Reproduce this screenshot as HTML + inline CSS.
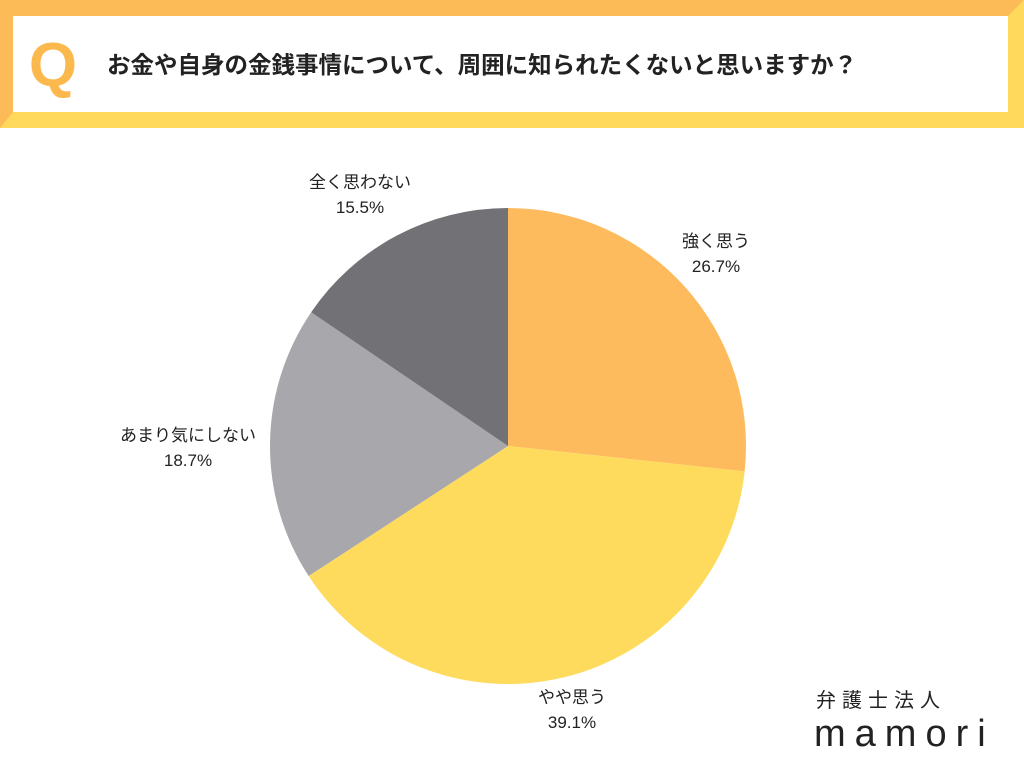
<!DOCTYPE html>
<html><head><meta charset="utf-8"><style>
body{margin:0;width:1024px;height:768px;background:#fff;overflow:hidden;font-family:"Liberation Sans","Noto Sans CJK JP",sans-serif;}
</style></head><body>
<svg width="1024" height="768" style="position:absolute;left:0;top:0">
<g>
<rect x="0" y="0" width="1024" height="128" fill="#fed95c"/>
<polygon points="0,0 1024,0 1008,16 13,16 13,112 0,128" fill="#fdbb58"/>
<rect x="13" y="16" width="995" height="96" fill="#fff"/>
<text x="53" y="86" font-size="62" font-weight="bold" fill="#fbb94d" text-anchor="middle">Q</text>
<text x="107" y="73" font-size="23.5" font-weight="bold" fill="#222">お金や自身の金銭事情について、周囲に知られたくないと思いますか？</text>
</g>
<g id="pie"></g>
<g>
<text x="816" y="707" font-size="20" fill="#222" letter-spacing="6">弁護士法人</text>
<text x="814" y="746" font-size="38" fill="#222" letter-spacing="9">mamori</text>
</g>
</svg>
<script>
const categories=["強く思う","やや思う","あまり気にしない","全く思わない"];
const values=[26.7,39.1,18.7,15.5];
const colors=["#fdbb5e","#fedb5c","#a8a8ac","#717176"];
const labelPos=[[716,247],[572,703],[188,441],[360,188]];
const cx=508,cy=446,r=238;
const g=document.getElementById('pie');
const ns="http://www.w3.org/2000/svg";
const total=values.reduce((a,b)=>a+b,0);
let a0=0;
values.forEach((v,i)=>{
  const a1=a0+v/total*2*Math.PI;
  const p=(a)=>[cx+r*Math.sin(a),cy-r*Math.cos(a)];
  const [x0,y0]=p(a0),[x1,y1]=p(a1);
  const path=document.createElementNS(ns,'path');
  path.setAttribute('d',`M${cx},${cy}L${x0},${y0}A${r},${r} 0 ${a1-a0>Math.PI?1:0} 1 ${x1},${y1}Z`);
  path.setAttribute('fill',colors[i]);
  
  
  g.appendChild(path);
  const [lx,ly]=labelPos[i];
  const t=document.createElementNS(ns,'text');
  t.setAttribute('x',lx);t.setAttribute('y',ly);
  t.setAttribute('text-anchor','middle');t.setAttribute('font-size','17');t.setAttribute('fill','#222');
  
  
  t.innerHTML=`<tspan x="${lx}">${categories[i]}</tspan><tspan x="${lx}" dy="25">${v.toFixed(1)}%</tspan>`;
  g.appendChild(t);
  a0=a1;
});
</script>
</body></html>
